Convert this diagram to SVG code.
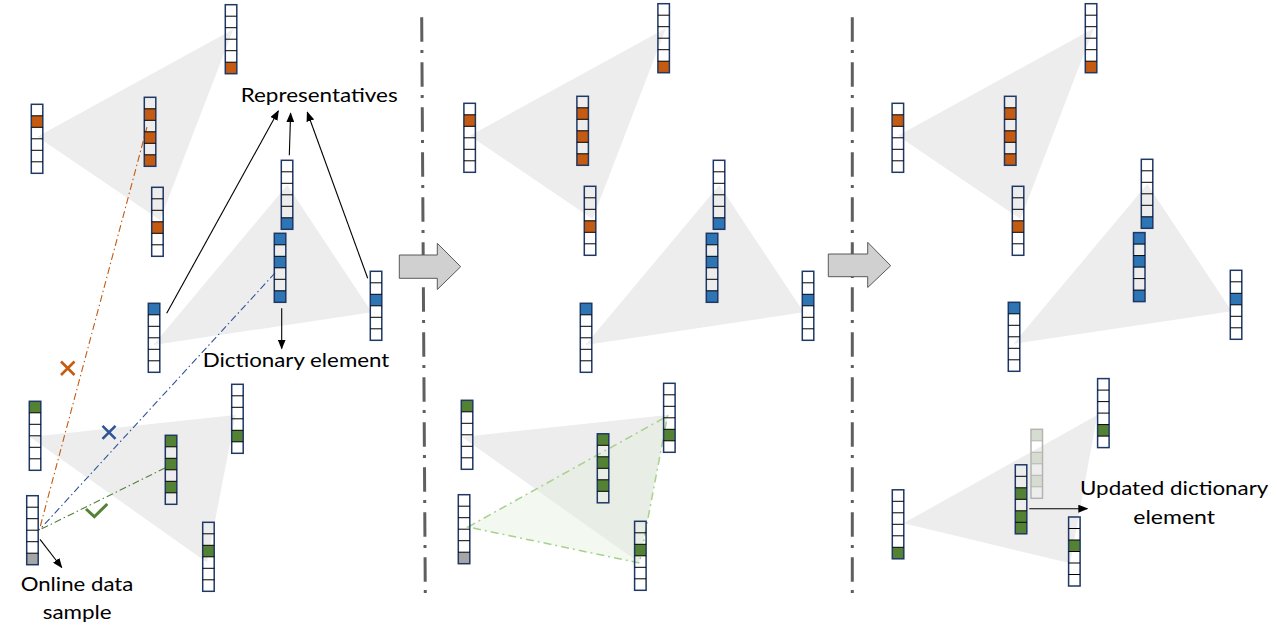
<svg xmlns="http://www.w3.org/2000/svg" xmlns:xlink="http://www.w3.org/1999/xlink" width="1277" height="628" viewBox="0 0 1277 628">
<style>
.tri{fill:#ededed;stroke:none}
.vo{fill:none;stroke:#1f3864;stroke-width:1.5}
.vd{stroke:#000;stroke-width:1;fill:none}
.or{fill:#c55a11}
.bl{fill:#2e75b6}
.gr{fill:#548235}
.gy{fill:#a6a6a6}
.fd{fill:#d6dccf}
.sep{stroke:#5f5f5f;stroke-width:3;fill:none;stroke-dasharray:24.4 8.4 3 9.2}
.dd{fill:none;stroke-width:1.1;stroke-dasharray:7 3 1.5 3}
.ar{stroke:#000;stroke-width:1.1;fill:none;marker-end:url(#ah)}
.blk{fill:#d0d0d0;stroke:#595959;stroke-width:1}
.lbl{font-family:Lato,"Liberation Sans",sans-serif;font-size:20px;fill:#000}
</style>
<defs>
<marker id="ah" markerWidth="10" markerHeight="8" refX="9" refY="4" orient="auto" markerUnits="userSpaceOnUse">
<path d="M0 0L10 4L0 8Z" fill="#000"/>
</marker>
<g id="vec"><rect class="vo" width="11.5" height="69"/><path class="vd" d="M0 11.5H11.5M0 23H11.5M0 34.5H11.5M0 46H11.5M0 57.5H11.5"/></g>
<g id="vecf"><rect width="11.5" height="69" fill="none" stroke="#b4b4b4" stroke-width="1.5"/><path d="M0 11.5H11.5M0 23H11.5M0 34.5H11.5M0 46H11.5M0 57.5H11.5" stroke="#b4b4b4" stroke-width="1"/></g>
</defs>
<rect width="1277" height="628" fill="#fff"/>

<!-- triangles (clusters) -->
<g id="clusters">
<polygon class="tri" points="37.3,136.7 233.3,29.3 160,220"/>
<polygon class="tri" points="287.3,185 371.7,312.3 153.3,345"/>
<polygon class="tri" points="30,437 235.5,415 207,562.5"/>
<polygon class="tri" points="469.9,135.7 665.9,28.3 592.6,219"/>
<polygon class="tri" points="719.3,185 803.7,312.3 585.3,345"/>
<polygon class="tri" points="462,437 667.5,415 639,562.5"/>
<polygon points="468,527 667.5,416 639.5,563" fill="#e2f0d9" fill-opacity="0.4" stroke="#a9d18e" stroke-width="1.5" stroke-dasharray="8 4 2 4"/>
<polygon class="tri" points="897.8,135.7 1093.8,28.3 1020.5,219"/>
<polygon class="tri" points="1147.3,184 1231.7,311.3 1013.3,344"/>
<polygon class="tri" points="903.3,523.3 1097.3,415 1070,563.3"/>
</g>

<!-- separators and block arrows -->
<g id="separators">
<path class="sep" d="M421.7 17.3L425.3 595"/>
<path class="sep" d="M852.3 17.3L852.3 595"/>
</g>
<g id="step1"><polygon class="blk" points="399.3,255 437.3,255 437.3,243.3 460.7,266.7 437.3,289.5 437.3,278.3 399.3,278.3"/></g>
<g id="step2"><polygon class="blk" points="828.3,254 867.7,254 867.7,242.3 890.7,265.7 867.7,287.5 867.7,276.7 828.3,276.7"/></g>

<!-- connectors -->
<g id="connectors">
<path class="dd" stroke="#c55a11" d="M147 127L39.3 530"/>
<path class="dd" stroke="#2f5597" d="M275 273L39.3 530"/>
<path class="dd" stroke="#548235" d="M165 468L39.3 530"/>
<path class="ar" d="M166.7 313.3L278.3 111"/>
<path class="ar" d="M289.3 155.3L290.6 113.3"/>
<path class="ar" d="M367.7 278.3L307.3 112.3"/>
<path class="ar" d="M281.7 308.3L281.7 348.5"/>
<path class="ar" d="M40 539.3L61.7 567.5"/>
<path class="ar" d="M1029.3 508.7L1087.3 508.7"/>
</g>
<g id="marks">
<path d="M61 361.5L74.5 375M74.5 361.5L61 375" stroke="#c55a11" stroke-width="2.6" fill="none"/>
<path d="M102.5 425.8L115.5 438.8M115.5 425.8L102.5 438.8" stroke="#2f5597" stroke-width="2.6" fill="none"/>
<path d="M86 509L94.3 516.7L107.3 504" stroke="#548235" stroke-width="3" fill="none"/>
</g>

<!-- Panel 1 vectors -->
<g id="p1">
<g id="p1A" transform="translate(225.3,4.7)"><rect class="or" y="57.5" width="11.5" height="11.5"/><use xlink:href="#vec"/></g>
<g id="p1B" transform="translate(31.3,104.3)"><rect class="or" y="11.5" width="11.5" height="11.5"/><use xlink:href="#vec"/></g>
<g id="p1C" transform="translate(144.3,97.3)"><rect class="or" y="11.5" width="11.5" height="11.5"/><rect class="or" y="34.5" width="11.5" height="11.5"/><rect class="or" y="57.5" width="11.5" height="11.5"/><use xlink:href="#vec"/></g>
<g id="p1D" transform="translate(151.7,187.3)"><rect class="or" y="34.5" width="11.5" height="11.5"/><use xlink:href="#vec"/></g>
<g id="p1E" transform="translate(281.3,160.3)"><rect class="bl" y="57.5" width="11.5" height="11.5"/><use xlink:href="#vec"/></g>
<g id="p1F" transform="translate(274.3,233.3)"><rect class="bl" y="0" width="11.5" height="11.5"/><rect class="bl" y="23" width="11.5" height="11.5"/><rect class="bl" y="57.5" width="11.5" height="11.5"/><use xlink:href="#vec"/></g>
<g id="p1G" transform="translate(370.3,271.3)"><rect class="bl" y="23" width="11.5" height="11.5"/><use xlink:href="#vec"/></g>
<g id="p1H" transform="translate(148.3,303.3)"><rect class="bl" y="0" width="11.5" height="11.5"/><use xlink:href="#vec"/></g>
<g id="p1I" transform="translate(26.7,495.7)"><rect class="gy" y="57.5" width="11.5" height="11.5"/><use xlink:href="#vec"/></g>
<g id="p1J" transform="translate(29.3,401.3)"><rect class="gr" y="0" width="11.5" height="11.5"/><use xlink:href="#vec"/></g>
<g id="p1K" transform="translate(165.3,435.3)"><rect class="gr" y="0" width="11.5" height="11.5"/><rect class="gr" y="23" width="11.5" height="11.5"/><rect class="gr" y="46" width="11.5" height="11.5"/><use xlink:href="#vec"/></g>
<g id="p1L" transform="translate(231.7,384.3)"><rect class="gr" y="46" width="11.5" height="11.5"/><use xlink:href="#vec"/></g>
<g id="p1M" transform="translate(202.7,522.3)"><rect class="gr" y="23" width="11.5" height="11.5"/><use xlink:href="#vec"/></g>
</g>

<!-- Panel 2 vectors -->
<g id="p2">
<g id="p2A" transform="translate(657.9,3.7)"><rect class="or" y="57.5" width="11.5" height="11.5"/><use xlink:href="#vec"/></g>
<g id="p2B" transform="translate(463.9,103.3)"><rect class="or" y="11.5" width="11.5" height="11.5"/><use xlink:href="#vec"/></g>
<g id="p2C" transform="translate(576.9,96.3)"><rect class="or" y="11.5" width="11.5" height="11.5"/><rect class="or" y="34.5" width="11.5" height="11.5"/><rect class="or" y="57.5" width="11.5" height="11.5"/><use xlink:href="#vec"/></g>
<g id="p2D" transform="translate(584.3,186.3)"><rect class="or" y="34.5" width="11.5" height="11.5"/><use xlink:href="#vec"/></g>
<g id="p2E" transform="translate(713.3,160.3)"><rect class="bl" y="57.5" width="11.5" height="11.5"/><use xlink:href="#vec"/></g>
<g id="p2F" transform="translate(706.3,233.3)"><rect class="bl" y="0" width="11.5" height="11.5"/><rect class="bl" y="23" width="11.5" height="11.5"/><rect class="bl" y="57.5" width="11.5" height="11.5"/><use xlink:href="#vec"/></g>
<g id="p2G" transform="translate(802.3,271.3)"><rect class="bl" y="23" width="11.5" height="11.5"/><use xlink:href="#vec"/></g>
<g id="p2H" transform="translate(580.3,303.3)"><rect class="bl" y="0" width="11.5" height="11.5"/><use xlink:href="#vec"/></g>
<g id="p2I" transform="translate(458.3,494.7)"><rect class="gy" y="57.5" width="11.5" height="11.5"/><use xlink:href="#vec"/></g>
<g id="p2J" transform="translate(461.3,400.3)"><rect class="gr" y="0" width="11.5" height="11.5"/><use xlink:href="#vec"/></g>
<g id="p2K" transform="translate(597.3,433.8)"><rect class="gr" y="0" width="11.5" height="11.5"/><rect class="gr" y="23" width="11.5" height="11.5"/><rect class="gr" y="46" width="11.5" height="11.5"/><use xlink:href="#vec"/></g>
<g id="p2L" transform="translate(663.6,383.3)"><rect class="gr" y="46" width="11.5" height="11.5"/><use xlink:href="#vec"/></g>
<g id="p2M" transform="translate(634.6,521.3)"><rect class="gr" y="23" width="11.5" height="11.5"/><use xlink:href="#vec"/></g>
</g>

<!-- Panel 3 vectors -->
<g id="p3">
<g id="p3A" transform="translate(1085.3,3.7)"><rect class="or" y="57.5" width="11.5" height="11.5"/><use xlink:href="#vec"/></g>
<g id="p3B" transform="translate(892.1,103.3)"><rect class="or" y="11.5" width="11.5" height="11.5"/><use xlink:href="#vec"/></g>
<g id="p3C" transform="translate(1004.5,96.3)"><rect class="or" y="11.5" width="11.5" height="11.5"/><rect class="or" y="34.5" width="11.5" height="11.5"/><rect class="or" y="57.5" width="11.5" height="11.5"/><use xlink:href="#vec"/></g>
<g id="p3D" transform="translate(1012.3,186.3)"><rect class="or" y="34.5" width="11.5" height="11.5"/><use xlink:href="#vec"/></g>
<g id="p3E" transform="translate(1141.3,159.3)"><rect class="bl" y="57.5" width="11.5" height="11.5"/><use xlink:href="#vec"/></g>
<g id="p3F" transform="translate(1133.5,232.6)"><rect class="bl" y="0" width="11.5" height="11.5"/><rect class="bl" y="23" width="11.5" height="11.5"/><rect class="bl" y="57.5" width="11.5" height="11.5"/><use xlink:href="#vec"/></g>
<g id="p3G" transform="translate(1230.3,270.3)"><rect class="bl" y="23" width="11.5" height="11.5"/><use xlink:href="#vec"/></g>
<g id="p3H" transform="translate(1008.3,302.3)"><rect class="bl" y="0" width="11.5" height="11.5"/><use xlink:href="#vec"/></g>
<g id="p3N" transform="translate(892.3,489.8)"><rect class="gr" y="57.5" width="11.5" height="11.5"/><use xlink:href="#vec"/></g>
<g id="p3Old" transform="translate(1031,429.3)"><rect class="fd" y="0" width="11.5" height="11.5"/><rect class="fd" y="23" width="11.5" height="11.5"/><rect class="fd" y="46" width="11.5" height="11.5"/><use xlink:href="#vecf"/></g>
<g id="p3K" transform="translate(1015.3,464.8)"><rect class="gr" y="23" width="11.5" height="11.5"/><rect class="gr" y="46" width="11.5" height="11.5"/><rect class="gr" y="57.5" width="11.5" height="11.5"/><use xlink:href="#vec"/></g>
<g id="p3L" transform="translate(1097.6,378.6)"><rect class="gr" y="46" width="11.5" height="11.5"/><use xlink:href="#vec"/></g>
<g id="p3M" transform="translate(1068.6,517)"><rect class="gr" y="23" width="11.5" height="11.5"/><use xlink:href="#vec"/></g>
</g>

<!-- labels -->
<g id="labels">
<text class="lbl" x="240.7" y="101.7" textLength="157" lengthAdjust="spacingAndGlyphs">Representatives</text>
<text class="lbl" x="202.7" y="366.7" textLength="186.6" lengthAdjust="spacingAndGlyphs">Dictionary element</text>
<text class="lbl" x="20.7" y="591" textLength="112.6" lengthAdjust="spacingAndGlyphs">Online data</text>
<text class="lbl" x="42.7" y="619" textLength="69" lengthAdjust="spacingAndGlyphs">sample</text>
<text class="lbl" x="1080" y="495" textLength="188.3" lengthAdjust="spacingAndGlyphs">Updated dictionary</text>
<text class="lbl" x="1133.3" y="524" textLength="81.7" lengthAdjust="spacingAndGlyphs">element</text>
</g>
</svg>
